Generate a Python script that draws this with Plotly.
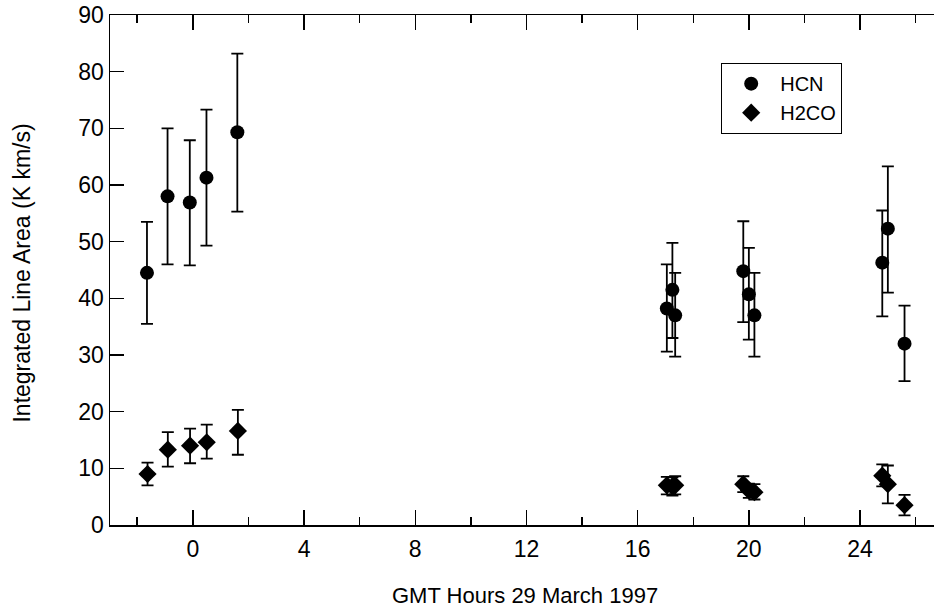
import plotly.graph_objects as go

# ---- data ----
hcn_hours = [-1.65, -0.91, -0.11, 0.49, 1.60, 17.05, 17.25, 17.35, 19.80, 20.00, 20.20, 24.80, 25.00, 25.60]
hcn_area  = [44.5, 58.0, 56.9, 61.3, 69.3, 38.2, 41.5, 37.0, 44.8, 40.7, 37.0, 46.3, 52.3, 32.0]
hcn_upper = [53.5, 70.0, 67.9, 73.3, 83.2, 46.0, 49.8, 44.5, 53.6, 48.9, 44.5, 55.5, 63.3, 38.7]
hcn_lower = [35.5, 46.0, 45.8, 49.3, 55.3, 30.6, 33.0, 29.7, 35.8, 32.7, 29.7, 36.8, 41.0, 25.4]

h2co_hours = [-1.63, -0.90, -0.10, 0.50, 1.62, 17.05, 17.25, 17.35, 19.80, 20.00, 20.20, 24.80, 25.00, 25.60]
h2co_area  = [9.0, 13.3, 14.0, 14.6, 16.6, 7.0, 6.8, 7.0, 7.2, 6.1, 5.8, 8.7, 7.2, 3.5]
h2co_upper = [11.0, 16.4, 17.0, 17.7, 20.3, 8.5, 8.4, 8.6, 8.6, 7.3, 7.2, 10.7, 10.5, 5.3]
h2co_lower = [7.0, 10.3, 10.9, 11.7, 12.4, 5.4, 5.2, 5.4, 5.8, 4.8, 4.5, 6.8, 3.8, 1.7]

x_ticks = [0, 4, 8, 12, 16, 20, 24]
y_ticks = [0, 10, 20, 30, 40, 50, 60, 70, 80, 90]

FONT = "Liberation Sans, Arial, Helvetica, sans-serif"


def err(vals, up, lo):
    return ([u - v for u, v in zip(up, vals)], [v - l for v, l in zip(vals, lo)])


hp, hm = err(hcn_area, hcn_upper, hcn_lower)
fp, fm = err(h2co_area, h2co_upper, h2co_lower)

fig = go.Figure()
fig.add_trace(go.Scatter(
    x=hcn_hours, y=hcn_area, mode="markers", name="HCN",
    marker=dict(symbol="circle", size=14, color="black"),
    error_y=dict(type="data", symmetric=False, array=hp, arrayminus=hm,
                 color="black", thickness=1.8, width=6),
))
fig.add_trace(go.Scatter(
    x=h2co_hours, y=h2co_area, mode="markers", name="H2CO",
    marker=dict(symbol="diamond", size=14, color="black"),
    error_y=dict(type="data", symmetric=False, array=fp, arrayminus=fm,
                 color="black", thickness=1.8, width=6),
))

fig.update_layout(
    width=934, height=612,
    margin=dict(l=110, r=0, t=15, b=87),
    paper_bgcolor="white", plot_bgcolor="white",
    font=dict(family=FONT, size=22, color="black"),
    showlegend=True,
    legend=dict(
        x=0.7415, y=0.906, xanchor="left", yanchor="top",
        bordercolor="black", borderwidth=1.2, bgcolor="white",
        font=dict(family=FONT, size=20, color="black"),
        itemwidth=48, tracegroupgap=0,
    ),
    xaxis=dict(
        range=[-2.98, 26.66], tickmode="array", tickvals=x_ticks,
        ticktext=[str(t) for t in x_ticks],
        ticks="inside", ticklen=15, tickwidth=1.5, tickcolor="black",
        minor=dict(dtick=2, tick0=0, ticks="inside", ticklen=8, tickwidth=1.5, tickcolor="black"),
        showline=True, linecolor="black", linewidth=1.5, mirror="ticks",
        showgrid=False, zeroline=False, ticklabelstandoff=3,
        tickfont=dict(family=FONT, size=23, color="black"),
    ),
    yaxis=dict(
        range=[0, 90], tickmode="array", tickvals=y_ticks,
        ticktext=[str(t) for t in y_ticks],
        ticks="inside", ticklen=14, tickwidth=1.5, tickcolor="black",
        showline=True, linecolor="black", linewidth=1.5, mirror=False,
        showgrid=False, zeroline=False, ticklabelstandoff=0,
        tickfont=dict(family=FONT, size=23, color="black"),
    ),
    yaxis2=dict(
        range=[0, 90], tickmode="array", tickvals=y_ticks, overlaying="y",
        side="right", anchor="x", ticks="inside", ticklen=14, tickwidth=1.5,
        tickcolor="black", showticklabels=False, showline=False,
        showgrid=False, zeroline=False,
    ),
    annotations=[
        dict(text="GMT Hours 29 March 1997", xref="paper", yref="paper",
             x=0.5036, y=-0.139, xanchor="center", yanchor="middle",
             showarrow=False, font=dict(family=FONT, size=22, color="black")),
        dict(text="Integrated Line Area (K km/s)", xref="paper", yref="paper",
             x=-0.1068, y=0.495, xanchor="center", yanchor="middle", textangle=-90,
             showarrow=False, font=dict(family=FONT, size=23, color="black")),
    ],
)

fig.write_html(
    "out.html",
    config={"displayModeBar": False, "staticPlot": True},
    post_script="document.body.style.margin='0px';document.body.style.overflow='hidden';",
)
